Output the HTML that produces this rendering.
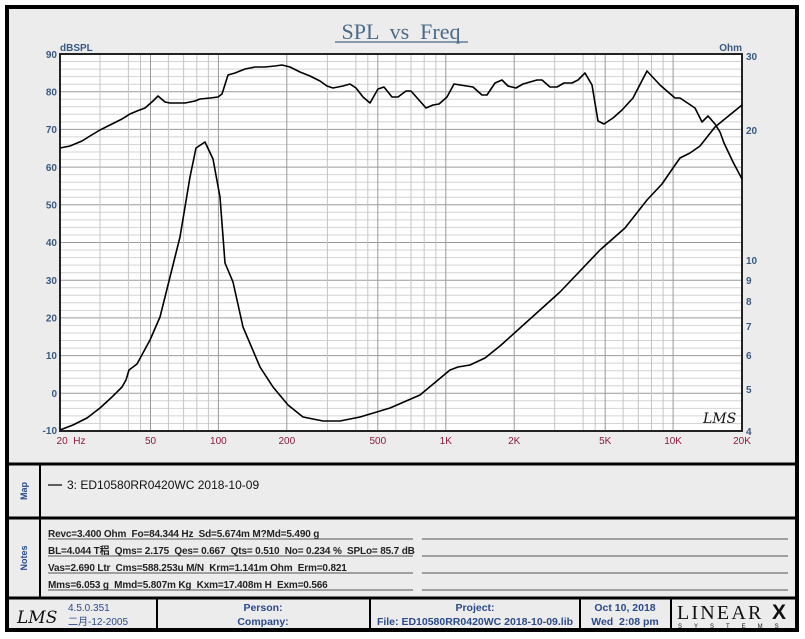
<!DOCTYPE html>
<html><head><meta charset="utf-8"><style>
html,body{margin:0;padding:0;background:#fff;}
svg{display:block;font-family:"Liberation Sans",Arial,sans-serif;}
text{white-space:pre;}
</style></head><body>
<svg width="805" height="639" viewBox="0 0 805 639" xmlns="http://www.w3.org/2000/svg">
<rect x="0" y="0" width="805" height="639" fill="#ffffff"/>
<rect x="7" y="7" width="790" height="623" fill="#ececec" stroke="#000" stroke-width="4"/>
<line x1="7" y1="464" x2="797" y2="464" stroke="#000" stroke-width="3"/>
<line x1="7" y1="518" x2="797" y2="518" stroke="#000" stroke-width="3"/>
<line x1="7" y1="598" x2="797" y2="598" stroke="#000" stroke-width="3"/>
<line x1="40" y1="464" x2="40" y2="598" stroke="#000" stroke-width="2"/>
<line x1="157" y1="598" x2="157" y2="630" stroke="#000" stroke-width="2"/>
<line x1="370" y1="598" x2="370" y2="630" stroke="#000" stroke-width="2"/>
<line x1="580" y1="598" x2="580" y2="630" stroke="#000" stroke-width="2"/>
<line x1="671" y1="598" x2="671" y2="630" stroke="#000" stroke-width="2"/>

<text x="401" y="39" text-anchor="middle" font-family="Liberation Serif,serif" font-size="22" fill="#4a6a88" xml:space="preserve">SPL  vs  Freq</text>
<line x1="335" y1="42" x2="468" y2="42" stroke="#4a6a88" stroke-width="1.2"/>

<rect x="60" y="54" width="682" height="377" fill="#ffffff"/>
<g stroke-width="1">
<g stroke="#d4d4d4">
<line x1="60" x2="742" y1="61.5" y2="61.5"/><line x1="60" x2="742" y1="69.1" y2="69.1"/><line x1="60" x2="742" y1="76.6" y2="76.6"/><line x1="60" x2="742" y1="84.2" y2="84.2"/>
<line x1="60" x2="742" y1="99.2" y2="99.2"/><line x1="60" x2="742" y1="106.8" y2="106.8"/><line x1="60" x2="742" y1="114.3" y2="114.3"/><line x1="60" x2="742" y1="121.9" y2="121.9"/>
<line x1="60" x2="742" y1="136.9" y2="136.9"/><line x1="60" x2="742" y1="144.5" y2="144.5"/><line x1="60" x2="742" y1="152" y2="152"/><line x1="60" x2="742" y1="159.6" y2="159.6"/>
<line x1="60" x2="742" y1="174.6" y2="174.6"/><line x1="60" x2="742" y1="182.2" y2="182.2"/><line x1="60" x2="742" y1="189.7" y2="189.7"/><line x1="60" x2="742" y1="197.3" y2="197.3"/>
<line x1="60" x2="742" y1="212.3" y2="212.3"/><line x1="60" x2="742" y1="219.9" y2="219.9"/><line x1="60" x2="742" y1="227.4" y2="227.4"/><line x1="60" x2="742" y1="235" y2="235"/>
<line x1="60" x2="742" y1="250" y2="250"/><line x1="60" x2="742" y1="257.6" y2="257.6"/><line x1="60" x2="742" y1="265.1" y2="265.1"/><line x1="60" x2="742" y1="272.7" y2="272.7"/>
<line x1="60" x2="742" y1="287.7" y2="287.7"/><line x1="60" x2="742" y1="295.3" y2="295.3"/><line x1="60" x2="742" y1="302.8" y2="302.8"/><line x1="60" x2="742" y1="310.4" y2="310.4"/>
<line x1="60" x2="742" y1="325.4" y2="325.4"/><line x1="60" x2="742" y1="333" y2="333"/><line x1="60" x2="742" y1="340.5" y2="340.5"/><line x1="60" x2="742" y1="348.1" y2="348.1"/>
<line x1="60" x2="742" y1="363.1" y2="363.1"/><line x1="60" x2="742" y1="370.7" y2="370.7"/><line x1="60" x2="742" y1="378.2" y2="378.2"/><line x1="60" x2="742" y1="385.8" y2="385.8"/>
<line x1="60" x2="742" y1="400.8" y2="400.8"/><line x1="60" x2="742" y1="408.4" y2="408.4"/><line x1="60" x2="742" y1="415.9" y2="415.9"/><line x1="60" x2="742" y1="423.5" y2="423.5"/>
</g>
<g stroke="#9a9a9a">
<line x1="60" x2="742" y1="91.7" y2="91.7"/><line x1="60" x2="742" y1="129.4" y2="129.4"/><line x1="60" x2="742" y1="167.1" y2="167.1"/><line x1="60" x2="742" y1="204.8" y2="204.8"/><line x1="60" x2="742" y1="242.5" y2="242.5"/><line x1="60" x2="742" y1="280.2" y2="280.2"/><line x1="60" x2="742" y1="317.9" y2="317.9"/><line x1="60" x2="742" y1="355.6" y2="355.6"/><line x1="60" x2="742" y1="393.3" y2="393.3"/>
</g>
<g stroke="#c4c4c4">
<line y1="54" y2="431" x1="100" x2="100"/><line y1="54" y2="431" x1="128.4" x2="128.4"/><line y1="54" y2="431" x1="168.4" x2="168.4"/><line y1="54" y2="431" x1="183.6" x2="183.6"/><line y1="54" y2="431" x1="196.8" x2="196.8"/><line y1="54" y2="431" x1="208.4" x2="208.4"/>
<line y1="54" y2="431" x1="327.4" x2="327.4"/><line y1="54" y2="431" x1="355.8" x2="355.8"/><line y1="54" y2="431" x1="395.8" x2="395.8"/><line y1="54" y2="431" x1="411" x2="411"/><line y1="54" y2="431" x1="424.2" x2="424.2"/><line y1="54" y2="431" x1="435.8" x2="435.8"/>
<line y1="54" y2="431" x1="554.7" x2="554.7"/><line y1="54" y2="431" x1="583.1" x2="583.1"/><line y1="54" y2="431" x1="623.1" x2="623.1"/><line y1="54" y2="431" x1="638.3" x2="638.3"/><line y1="54" y2="431" x1="651.5" x2="651.5"/><line y1="54" y2="431" x1="663.1" x2="663.1"/>
<line y1="54" y2="431" x1="140.5" x2="140.5"/><line y1="54" y2="431" x1="367.8" x2="367.8"/><line y1="54" y2="431" x1="595.2" x2="595.2"/>
</g>
<g stroke="#999">
<line y1="54" y2="431" x1="150.5" x2="150.5"/><line y1="54" y2="431" x1="218.4" x2="218.4"/><line y1="54" y2="431" x1="286.8" x2="286.8"/>
<line y1="54" y2="431" x1="377.8" x2="377.8"/><line y1="54" y2="431" x1="445.8" x2="445.8"/><line y1="54" y2="431" x1="514.2" x2="514.2"/>
<line y1="54" y2="431" x1="605.2" x2="605.2"/><line y1="54" y2="431" x1="673.1" x2="673.1"/>
</g>
</g>
<rect x="60" y="54" width="682" height="377" fill="none" stroke="#222" stroke-width="2"/>

<polyline fill="none" stroke="#000" stroke-width="1.6" stroke-linejoin="round" points="60,148 70,146 82,141 90,136 100,130 110,125 122,119 130,114 137,111 145,108 153,101 158,96 165,102 170,103 185,103 195,101 200,99 210,98 218,97 222,94 228,75 235,73 245,69 255,67 265,67 275,66 282,65 290,67 300,72 310,76 320,81 327,86 333,88 343,86 350,84 356,88 363,97 370,103 378,89 384,87 392,97 398,97 406,91 411,91 426,108 433,105 439,104 447,97 454,84 473,87 482,95 487,95 495,83 502,80 508,86 516,88 523,84 537,80 542,80 550,87 557,87 564,83 572,83 578,80 585,73 592,85 598,121 604,124 613,118 622,110 633,98 647,71 660,85 675,98 680,98 695,108 702,122 708,116 715,124 720,132 724,143 733,162 742,179"/>
<polyline fill="none" stroke="#000" stroke-width="1.6" stroke-linejoin="round" points="60,430 73,425 87,418 100,408 112,397 122,387 126,380 129,370 137,364 150,340 160,317 170,277 180,237 190,177 196,148 205,142 213,159 220,197 225,263 233,282 243,327 260,367 273,387 288,405 303,417 323,421 340,421 360,417 390,408 420,395 438,380 450,370 458,367 470,365 485,358 500,346 520,328 560,292 600,250 625,228 647,200 662,184 673,168 680,158 690,153 700,146 715,127 742,105"/>

<text x="703" y="423" font-family="DejaVu Serif,serif" font-style="italic" font-size="14" fill="#111">LMS</text>

<g font-size="10" font-weight="bold" fill="#3a5a82" text-anchor="end">
<text x="57" y="58">90</text><text x="57" y="95.5">80</text><text x="57" y="133">70</text><text x="57" y="171">60</text><text x="57" y="208.5">50</text><text x="57" y="246">40</text><text x="57" y="284">30</text><text x="57" y="321.5">20</text><text x="57" y="359">10</text><text x="57" y="397">0</text><text x="57" y="434">-10</text>
</g>
<text x="60" y="51" font-size="10" font-weight="bold" fill="#3a5a82">dBSPL</text>
<text x="742" y="51" font-size="10" font-weight="bold" fill="#3a5a82" text-anchor="end">Ohm</text>
<g font-size="10" font-weight="bold" fill="#3a5a82">
<text x="746" y="60">30</text><text x="746" y="134">20</text><text x="746" y="264">10</text><text x="746" y="284">9</text><text x="746" y="305">8</text><text x="746" y="330">7</text><text x="746" y="359">6</text><text x="746" y="393">5</text><text x="746" y="435">4</text>
</g>
<g font-size="10" fill="#8a1c40" text-anchor="middle">
<text x="71" y="444">20  Hz</text><text x="150.5" y="444">50</text><text x="218.4" y="444">100</text><text x="286.8" y="444">200</text><text x="377.8" y="444">500</text><text x="445.8" y="444">1K</text><text x="514.2" y="444">2K</text><text x="605.2" y="444">5K</text><text x="673.1" y="444">10K</text><text x="742" y="444">20K</text>
</g>

<text transform="translate(27,491) rotate(-90)" font-size="9" font-weight="bold" fill="#2a4a8a" text-anchor="middle">Map</text>
<text transform="translate(27,558) rotate(-90)" font-size="9" font-weight="bold" fill="#2a4a8a" text-anchor="middle">Notes</text>

<line x1="48" y1="485" x2="62" y2="485" stroke="#000" stroke-width="1.2"/>
<text x="67" y="489" font-size="12" fill="#111">3: ED10580RR0420WC 2018-10-09</text>

<g font-size="10" font-weight="bold" fill="#222" letter-spacing="-0.15">
<text x="48" y="537">Revc=3.400 Ohm  Fo=84.344 Hz  Sd=5.674m M?Md=5.490 g</text>
<text x="48" y="554">BL=4.044 T<tspan font-family="Noto Sans CJK SC,sans-serif">稆</tspan>  Qms= 2.175  Qes= 0.667  Qts= 0.510  No= 0.234 %  SPLo= 85.7 dB</text>
<text x="48" y="571">Vas=2.690 Ltr  Cms=588.253u M/N  Krm=1.141m Ohm  Erm=0.821</text>
<text x="48" y="588">Mms=6.053 g  Mmd=5.807m Kg  Kxm=17.408m H  Exm=0.566</text>
</g>
<g stroke="#555" stroke-width="1">
<line x1="48" x2="413" y1="539" y2="539"/><line x1="422" x2="788" y1="539" y2="539"/>
<line x1="48" x2="413" y1="556" y2="556"/><line x1="422" x2="788" y1="556" y2="556"/>
<line x1="48" x2="413" y1="573" y2="573"/><line x1="422" x2="788" y1="573" y2="573"/>
<line x1="48" x2="413" y1="590" y2="590"/><line x1="422" x2="788" y1="590" y2="590"/>
</g>

<text x="17" y="623" font-family="DejaVu Serif,serif" font-style="italic" font-size="17" fill="#111">LMS</text>
<text x="68" y="611" font-size="10" fill="#2a4a8a">4.5.0.351</text>
<text x="68" y="625" font-size="10" fill="#2a4a8a" font-family="Liberation Sans,Noto Sans CJK SC,sans-serif">二月-12-2005</text>
<g font-size="10.5" font-weight="bold" fill="#2a4a8a" text-anchor="middle">
<text x="263" y="611">Person:</text><text x="263" y="625">Company:</text>
<text x="475" y="611">Project:</text><text x="475" y="625">File: ED10580RR0420WC 2018-10-09.lib</text>
<text x="625" y="611">Oct 10, 2018</text><text x="625" y="625">Wed  2:08 pm</text>
</g>
<text x="677" y="619" font-family="Liberation Serif,serif" font-size="20" fill="#111" letter-spacing="2.2">LINEAR</text>
<text x="772" y="619" font-size="21" font-weight="bold" fill="#111">X</text>
<text x="678" y="628" font-size="6" fill="#111" letter-spacing="12">SYSTEMS</text>
</svg>
</body></html>
